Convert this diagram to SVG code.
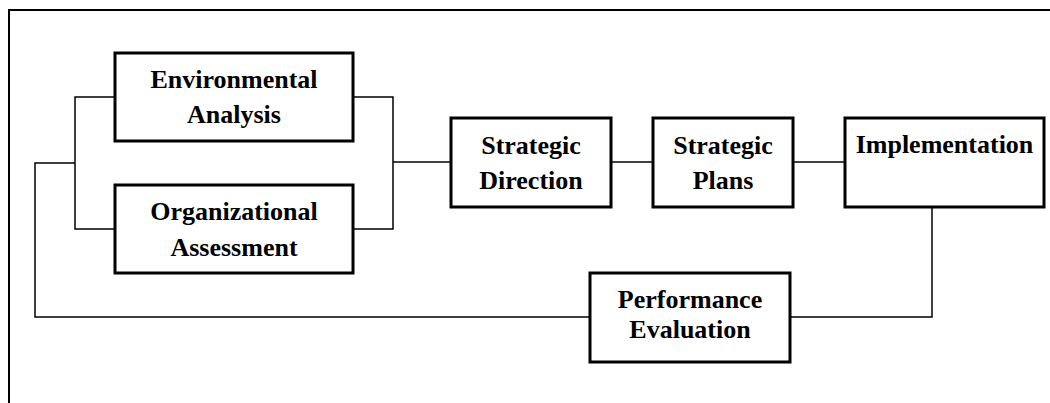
<svg xmlns="http://www.w3.org/2000/svg" width="1050" height="403" viewBox="0 0 1050 403">
<style>
.box{fill:#fff;stroke:#000;stroke-width:3}
.ln{fill:none;stroke:#000;stroke-width:1.5}
.frame{fill:none;stroke:#000;stroke-width:2}
text{font-family:"Liberation Serif","Times New Roman",serif;font-weight:bold;font-size:26px;text-anchor:middle;fill:#000}
</style>
<rect width="1050" height="403" fill="#fff"/>
<path class="frame" d="M9 403 V10 H1050"/>
<g id="connectors">
<path class="ln" d="M115 97 H75 V229 H115"/>
<path class="ln" d="M353 97 H393 V229 H353"/>
<path class="ln" d="M393 162 H451"/>
<path class="ln" d="M611 162 H653"/>
<path class="ln" d="M793 162 H845"/>
<path class="ln" d="M932 207 V317 H790"/>
<path class="ln" d="M590 317 H35 V163 H75"/>
</g>
<g id="env"><rect class="box" x="115" y="53" width="238" height="88"/><text x="234" y="88">Environmental</text><text x="234" y="123">Analysis</text></g>
<g id="org"><rect class="box" x="115" y="185" width="238" height="88"/><text x="234" y="220">Organizational</text><text x="234" y="256">Assessment</text></g>
<g id="sd"><rect class="box" x="451" y="118" width="160" height="89"/><text x="531" y="154">Strategic</text><text x="531" y="189">Direction</text></g>
<g id="sp"><rect class="box" x="653" y="118" width="140" height="89"/><text x="723" y="154">Strategic</text><text x="723" y="189">Plans</text></g>
<g id="impl"><rect class="box" x="845" y="118" width="199" height="89"/><text x="944.5" y="153">Implementation</text></g>
<g id="pe"><rect class="box" x="590" y="273" width="200" height="89"/><text x="690" y="308">Performance</text><text x="690" y="338">Evaluation</text></g>
</svg>
